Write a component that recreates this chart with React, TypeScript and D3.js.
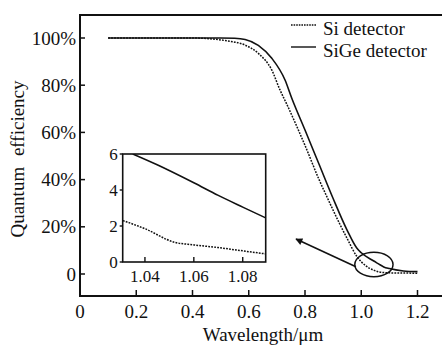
import React from 'react'
import * as d3 from 'd3'

// main plot, wavelength (um) vs quantum efficiency (%)
const siWave = [0.1, 0.4, 0.45, 0.516, 0.587, 0.634, 0.682, 0.711, 0.735, 0.8, 0.85, 0.883, 0.9, 0.95, 0.984, 1.0, 1.03, 1.043, 1.06, 1.08, 1.1, 1.15, 1.2]
const siQE = [100, 100, 99.8, 98.9, 97, 93.5, 86.4, 78, 72, 54.5, 40, 31.4, 27, 15, 7.5, 5.2, 2.4, 1.7, 0.95, 0.62, 0.5, 0.4, 0.35]
const sigeWave = [0.1, 0.5, 0.55, 0.587, 0.634, 0.682, 0.729, 0.753, 0.8, 0.85, 0.9, 0.95, 0.984, 1.0, 1.043, 1.06, 1.08, 1.1, 1.15, 1.2]
const sigeQE = [100, 100, 99.9, 99.4, 96.9, 91.4, 82.2, 74.5, 61, 46.5, 32, 18.5, 11, 9, 5.6, 4.4, 3.0, 2.3, 1.3, 1.0]

// inset (zoom of 1.03 - 1.09 um)
const insetSiWave = [1.031, 1.04, 1.052, 1.06, 1.07, 1.08, 1.0894]
const insetSiQE = [2.3, 1.85, 1.1, 0.95, 0.8, 0.62, 0.45]
const insetSigeWave = [1.035, 1.045, 1.06, 1.07, 1.08, 1.0894]
const insetSigeQE = [6.0, 5.4, 4.4, 3.7, 3.05, 2.45]

const xTicks = [0, 0.2, 0.4, 0.6, 0.8, 1.0, 1.2]
const xTickLabels = ['0', '0.2', '0.4', '0.6', '0.8', '1.0', '1.2']
const yTicks = [0, 20, 40, 60, 80, 100]
const yTickLabels = ['0', '20%', '40%', '60%', '80%', '100%']
const insetXTicks = [1.04, 1.06, 1.08]
const insetXLabels = ['1.04', '1.06', '1.08']
const insetYTicks = [0, 2, 4, 6]

const legendItems = ['Si detector', 'SiGe detector']

// ellipse marking the zoomed region and the arrow pointing to the inset
const ringCenter = [1.045, 4.0]
const ringSize = [0.068, 5.2]
const arrowFrom = [0.981, 3.1]
const arrowTo = [0.768, 14.8]

const W = 443
const H = 345
const font = '"Liberation Serif", Tinos, "Times New Roman", serif'
const ink = '#111'

// scales
const x = d3.scaleLinear().domain([0, 1.2]).range([80, 417.5])
const y = d3.scaleLinear().domain([0, 100]).range([274, 38])
const frameTop = 15
const frameBottom = 296
const frameLeft = 80
const frameRight = 442

const ix = d3.scaleLinear().domain([1.0309, 1.0894]).range([122.7, 265.7])
const iy = d3.scaleLinear().domain([0, 6]).range([262, 154])

const smooth = d3.line().curve(d3.curveMonotoneX)
const pts = (sx: d3.ScaleLinear<number, number>, sy: d3.ScaleLinear<number, number>, ws: number[], vs: number[]) =>
  ws.map((w, i) => [sx(w), sy(vs[i])] as [number, number])

export default function App() {
  const [x0, x1] = ix.domain()
  const boxX = ix(x0)
  const boxY = iy(6)
  const boxW = ix(x1) - ix(x0)
  const boxH = iy(0) - iy(6)

  return (
    <svg width={W} height={H} style={{ position: 'absolute', left: 0, top: 0 }}>
      <style>{`text { font-family: ${font} !important; }`}</style>
      <rect width={W} height={H} fill="white" />
      <defs>
        <marker id="arrowhead" viewBox="0 0 10 10" refX={9} refY={5} markerWidth={9} markerHeight={7}
          markerUnits="userSpaceOnUse" orient="auto">
          <path d="M0,0L10,5L0,10z" fill={ink} />
        </marker>
        <clipPath id="insetclip">
          <rect x={boxX} y={boxY} width={boxW} height={boxH} />
        </clipPath>
      </defs>

      {/* frame */}
      <path d={`M${frameRight},${frameTop}H${frameLeft}V${frameBottom}H${frameRight}`}
        stroke={ink} strokeWidth={2} fill="none" />

      {/* x axis */}
      {xTicks.map((t, i) => (
        <g key={'x' + t}>
          <line x1={x(t)} x2={x(t)} y1={frameBottom} y2={frameBottom - 6} stroke={ink} strokeWidth={1.5} />
          <text x={x(t)} y={frameBottom + 22} textAnchor="middle" fontFamily={font} fontSize={19} fill={ink}>
            {xTickLabels[i]}
          </text>
        </g>
      ))}

      {/* y axis */}
      {yTicks.map((t, i) => (
        <g key={'y' + t}>
          <line x1={frameLeft} x2={frameLeft + 5} y1={y(t)} y2={y(t)} stroke={ink} strokeWidth={1.5} />
          <text x={frameLeft - 4} y={y(t) + 6.5} textAnchor="end" fontFamily={font} fontSize={19} fill={ink}>
            {yTickLabels[i]}
          </text>
        </g>
      ))}

      {/* curves */}
      <path d={smooth(pts(x, y, siWave, siQE)) || ''} fill="none" stroke={ink} strokeWidth={1.5}
        strokeDasharray="1.8,1.2" />
      <path d={smooth(pts(x, y, sigeWave, sigeQE)) || ''} fill="none" stroke={ink} strokeWidth={1.6} />

      {/* ellipse + arrow */}
      <ellipse cx={x(ringCenter[0])} cy={y(ringCenter[1])} rx={x(ringSize[0]) - x(0)} ry={y(0) - y(ringSize[1])}
        fill="none" stroke={ink} strokeWidth={1.5} />
      <line x1={x(arrowFrom[0])} y1={y(arrowFrom[1])} x2={x(arrowTo[0])} y2={y(arrowTo[1])}
        stroke={ink} strokeWidth={1.6} markerEnd="url(#arrowhead)" />

      {/* legend */}
      {legendItems.map((name, i) => {
        const ly = 25 + i * 22
        return (
          <g key={name}>
            <line x1={291} x2={316} y1={ly} y2={ly} stroke={ink} strokeWidth={1.4}
              strokeDasharray={i === 0 ? '1.6,1' : undefined} />
            <text x={323} y={ly + 9.5} fontFamily={font} fontSize={19} fill={ink}>{name}</text>
          </g>
        )
      })}

      {/* axis titles */}
      <text x={263} y={341} textAnchor="middle" fontFamily={font} fontSize={19} fill={ink}>Wavelength/μm</text>
      <text transform="translate(24,159) rotate(-90)" textAnchor="middle" fontFamily={font} fontSize={19}
        fill={ink} wordSpacing={6}>Quantum efficiency</text>

      {/* inset */}
      <rect x={boxX} y={boxY} width={boxW} height={boxH} fill="white" stroke={ink} strokeWidth={1.6} />
      <g clipPath="url(#insetclip)">
        <path d={smooth(pts(ix, iy, insetSiWave, insetSiQE)) || ''} fill="none" stroke={ink} strokeWidth={1.5}
          strokeDasharray="1.8,1.2" />
        <path d={smooth(pts(ix, iy, insetSigeWave, insetSigeQE)) || ''} fill="none" stroke={ink} strokeWidth={1.6} />
      </g>
      {insetXTicks.map((t, i) => (
        <g key={'ix' + t}>
          <line x1={ix(t)} x2={ix(t)} y1={iy(0)} y2={iy(0) - 5} stroke={ink} strokeWidth={1.4} />
          <text x={ix(t)} y={iy(0) + 20} textAnchor="middle" fontFamily={font} fontSize={17} fill={ink}>
            {insetXLabels[i]}
          </text>
        </g>
      ))}
      {insetYTicks.map(t => (
        <g key={'iy' + t}>
          <line x1={boxX - 3} x2={boxX} y1={iy(t)} y2={iy(t)} stroke={ink} strokeWidth={1.4} />
          <text x={boxX - 5} y={iy(t) + 6} textAnchor="end" fontFamily={font} fontSize={17} fill={ink}>{t}</text>
        </g>
      ))}
    </svg>
  )
}
